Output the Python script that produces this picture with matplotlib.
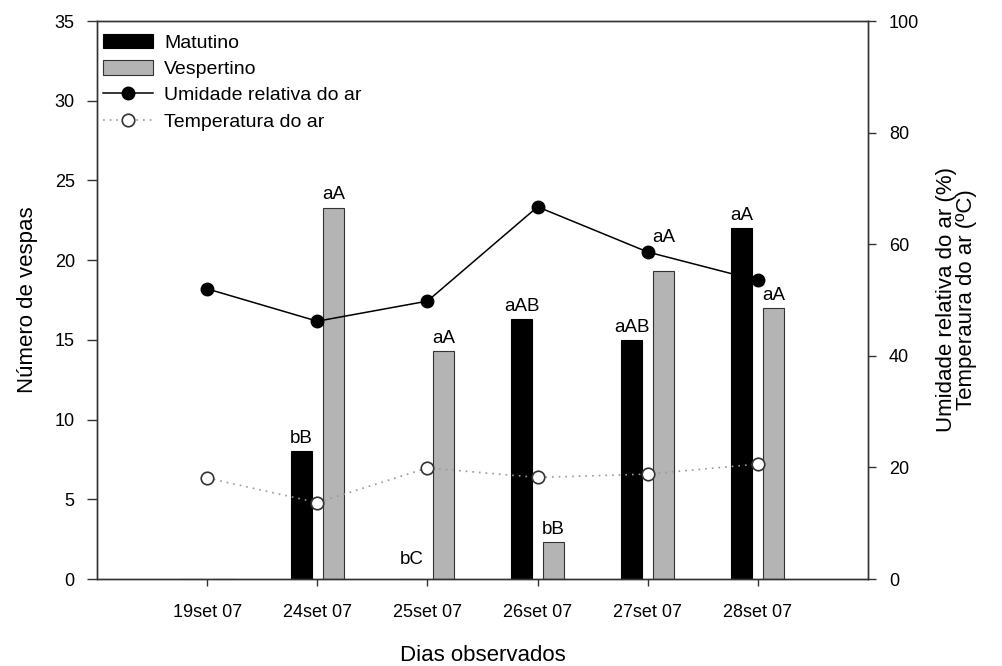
import numpy as np
import matplotlib
matplotlib.use("Agg")
import matplotlib.pyplot as plt

plt.rcParams['font.family'] = ['Liberation Sans', 'DejaVu Sans']

# dados por dia observado
dias = ['19set 07', '24set 07', '25set 07', '26set 07', '27set 07', '28set 07']
matutino = [0, 8.0, 0, 16.3, 15.0, 22.0]
vespertino = [0, 23.3, 14.3, 2.3, 19.3, 17.0]
umidade = [52.0, 46.2, 49.8, 66.7, 58.6, 53.5]
temperatura = [18.1, 13.7, 19.9, 18.2, 18.8, 20.6]

# letras de comparacao (vazio = sem letra)
letras_mat = ['', 'bB', 'bC', 'aAB', 'aAB', 'aA']
letras_vesp = ['', 'aA', 'aA', 'bB', 'aA', 'aA']
# deslocamento extra das letras (em numero de vespas)
extra_mat = [0, 0, 0.45, 0, 0, 0]
extra_vesp = [0, 0, 0, 0, 1.3, 0]

x = np.arange(len(dias))
w = 0.19
d = 0.145

fig = plt.figure(figsize=(10.03, 6.66), dpi=100)
ax = fig.add_axes([97/1003, 1 - 579/666, (868 - 97)/1003, (579 - 21)/666])
ax2 = ax.twinx()

b1 = ax.bar(x - d, matutino, w, color='black', edgecolor='black', linewidth=0.8,
            label='Matutino')
b2 = ax.bar(x + d, vespertino, w, color='#b4b4b4', edgecolor='#333333', linewidth=0.8,
            label='Vespertino')

for xi, h, t, e in zip(x - d, matutino, letras_mat, extra_mat):
    if t:
        ax.annotate(t, (xi, h + e), xytext=(0, 3), textcoords='offset points',
                    ha='center', va='bottom', fontsize=13.5)
for xi, h, t, e in zip(x + d, vespertino, letras_vesp, extra_vesp):
    if t:
        ax.annotate(t, (xi, h + e), xytext=(0, 3), textcoords='offset points',
                    ha='center', va='bottom', fontsize=13.5)

l1, = ax2.plot(x, umidade, '-', color='black', lw=1.1, marker='o', ms=9,
               mfc='black', mec='black', label='Umidade relativa do ar')
l2, = ax2.plot(x, temperatura, linestyle=(0, (1, 3)), color='#999999', lw=1.2,
               marker='o', ms=9, mfc='white', mec='#333333', mew=1.2,
               label='Temperatura do ar')

ax.set_xlim(-1, 6)
ax.set_ylim(0, 35)
ax2.set_ylim(0, 100)
ax.set_yticks(np.arange(0, 36, 5))
ax2.set_yticks(np.arange(0, 101, 20))
ax.set_xticks(x)
ax.set_xticklabels(dias)

for a in (ax, ax2):
    for s in a.spines.values():
        s.set_linewidth(1.0)
        s.set_color('#333333')
ax.tick_params(axis='y', direction='out', length=7, width=1, colors='#333333',
               labelcolor='black', labelsize=13, pad=9)
ax2.tick_params(axis='y', direction='out', length=6, width=1, colors='#333333',
                labelcolor='black', labelsize=13, pad=9)
ax.tick_params(axis='x', direction='out', length=5, width=1, colors='#333333',
               labelcolor='black', labelsize=13, pad=13)

ax.set_xlabel('Dias observados', fontsize=16, labelpad=17)
ax.set_ylabel('Número de vespas', fontsize=16, labelpad=12)
ax2.set_ylabel('Umidade relativa do ar (%)\nTemperaura do ar (ºC)', fontsize=16,
               labelpad=12, linespacing=0.95)

ax2.legend([b1, b2, l1, l2],
           ['Matutino', 'Vespertino', 'Umidade relativa do ar', 'Temperatura do ar'],
           loc='upper left', bbox_to_anchor=(-0.005, 0.995), frameon=False, fontsize=14,
           handlelength=2.6, handleheight=0.8, handletextpad=0.55, labelspacing=0.42,
           borderaxespad=0.2, borderpad=0.3)

fig.savefig('out.png', dpi=100)
